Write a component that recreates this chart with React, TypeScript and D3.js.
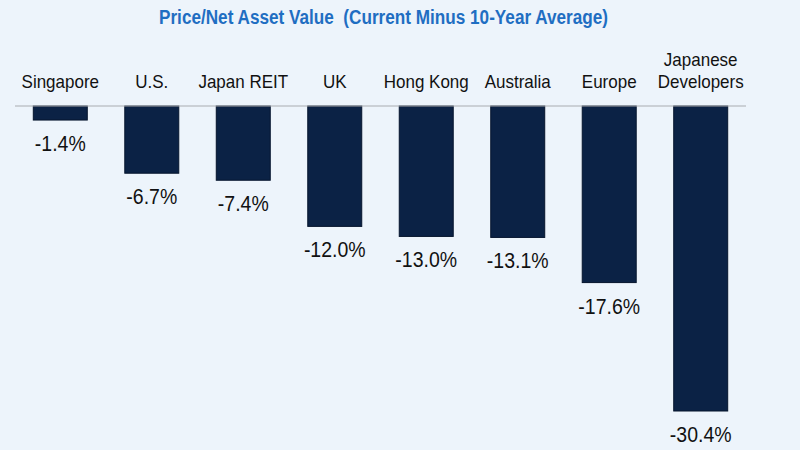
import React from "react";
import * as d3 from "d3";

const categories = ["Singapore", "U.S.", "Japan REIT", "UK", "Hong Kong", "Australia", "Europe", "Japanese Developers"];
const values = [-1.4, -6.7, -7.4, -12.0, -13.0, -13.1, -17.6, -30.4];
const title = "Price/Net Asset Value  (Current Minus 10-Year Average)";

const W = 800;
const H = 450;

export default function App() {
  const x = d3.scaleBand<string>().domain(categories).range([15, 746]).paddingInner(0.41).paddingOuter(0.2);
  const y = d3.scaleLinear().domain([0, -30.4]).range([106, 411]);
  const bw = x.bandwidth();
  const fmt = (v: number) => `${v.toFixed(1)}%`;
  const font = "'Liberation Sans', Arial, Helvetica, sans-serif";

  return (
    <svg width={W} height={H} style={{ position: "absolute", left: 0, top: 0 }} fontFamily={font}>
      <rect x={0} y={0} width={W} height={H} fill="#edf4fb" />
      <text
        x={383.5}
        y={24}
        textAnchor="middle"
        fontSize={19.5}
        fontWeight="bold"
        fill="#1f6ec2"
        textLength={449}
        lengthAdjust="spacingAndGlyphs"
        style={{ whiteSpace: "pre" }}
      >
        {title}
      </text>
      {categories.map((c, i) => {
        const cx = (x(c) ?? 0) + bw / 2;
        const words = c === "Japanese Developers" ? ["Japanese", "Developers"] : [c];
        return (
          <g key={c}>
            {words.map((w, j) => (
              <text
                key={w}
                transform={`translate(${cx},${88 - (words.length - 1 - j) * 22}) scale(1,1.08)`}
                textAnchor="middle"
                fontSize={17}
                fill="#111"
              >
                {w}
              </text>
            ))}
            <rect
              x={x(c)}
              y={y(0)}
              width={bw}
              height={y(values[i]) - y(0)}
              fill="#0b2245"
              stroke="#06152d"
              strokeWidth={1}
            />
            <text
              transform={`translate(${cx},${y(values[i]) + 31}) scale(1,1.12)`}
              textAnchor="middle"
              fontSize={19.5}
              fill="#111"
            >
              {fmt(values[i])}
            </text>
          </g>
        );
      })}
      <line x1={15} x2={746} y1={y(0)} y2={y(0)} stroke="#a9acb0" strokeWidth={1} />
    </svg>
  );
}
